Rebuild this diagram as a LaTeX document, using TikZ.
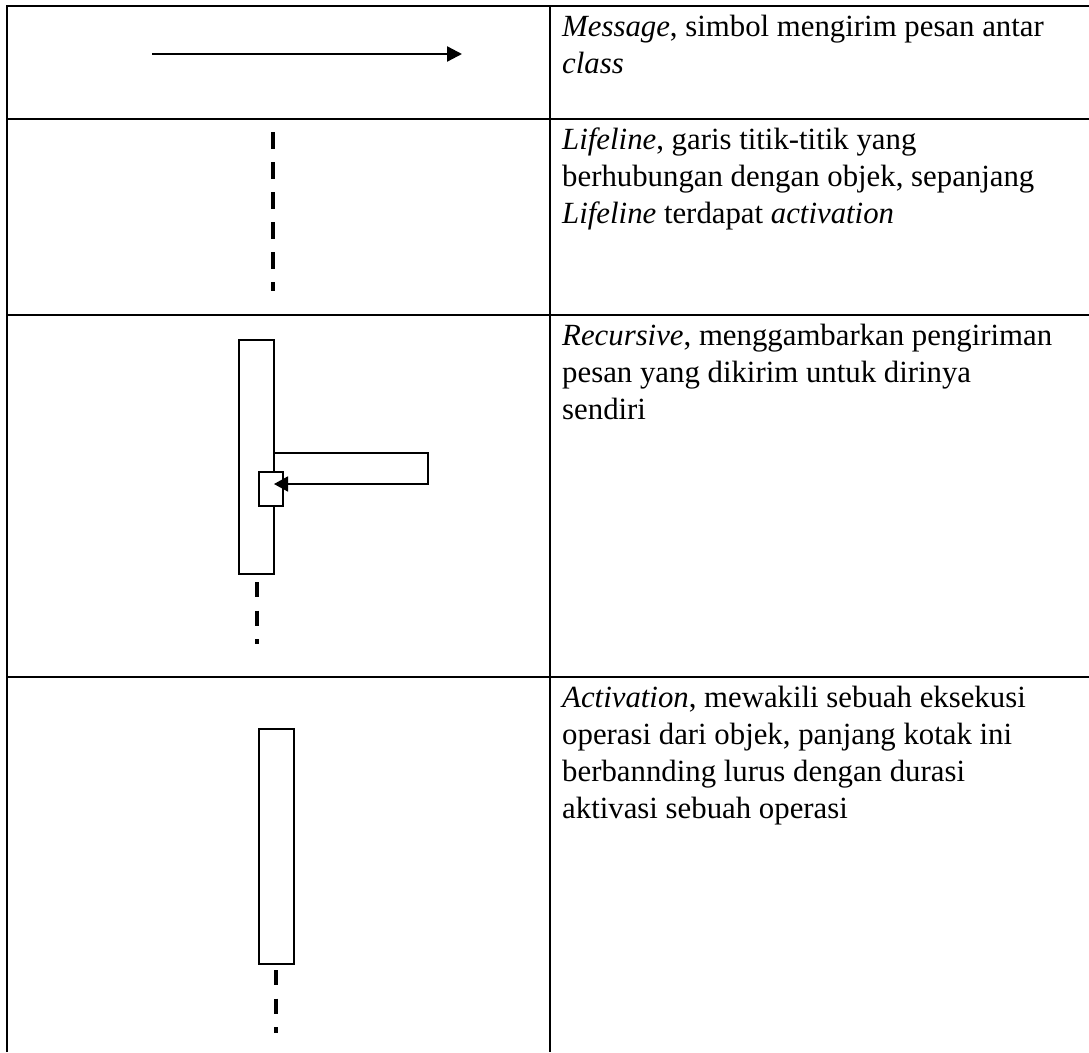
\documentclass[tikz,border=0pt]{standalone}
\usepackage{fontspec}
\setmainfont{Liberation Serif}
\usetikzlibrary{arrows.meta}
\begin{document}
\begin{tikzpicture}[x=1pt,y=-1pt,
  rule/.style={line width=2pt, line join=miter},
  outline/.style={draw, line width=1.8pt, line join=miter},
  box/.style={outline, fill=white, inner sep=0pt, anchor=north west},
  lifeline/.style={line width=3.6pt, dash pattern=on 17pt off 13pt},
  shortlife/.style={line width=3.6pt, dash pattern=on 15pt off 13.5pt},
  msg/.style={line width=2.4pt, -{Triangle[length=15pt,width=15pt]}},
  loopmsg/.style={line width=1.8pt, line join=miter, -{Triangle[length=14pt,width=15pt]}},
  cell/.style={anchor=base west, inner sep=0pt, font=\fontsize{30.8}{36.7}\selectfont}]
\useasboundingbox (0,0) rectangle (1089,1052);

% table grid
\draw[rule] (7,1052) -- (7,6) -- (1089,6);
\draw[rule] (550,6) -- (550,1052);
\draw[rule] (7,119) -- (1089,119);
\draw[rule] (7,315) -- (1089,315);
\draw[rule] (7,677) -- (1089,677);

% row 1: message
\coordinate (msgA) at (152,54);
\coordinate (msgB) at (462,54);
\draw[msg] (msgA) -- (msgB);
\node[cell] (t11) at (562,36) {\textit{Message}, simbol mengirim pesan antar};
\node[cell] (t12) at (562,73) {\textit{class}};

% row 2: lifeline
\coordinate (lifeA) at (273,132);
\coordinate (lifeB) at (273,291);
\draw[lifeline] (lifeA) -- (lifeB);
\node[cell] (t21) at (562,149) {\textit{Lifeline}, garis titik-titik yang};
\node[cell] (t22) at (562,186) {berhubungan dengan objek, sepanjang};
\node[cell] (t23) at (562,223) {\textit{Lifeline} terdapat \textit{activation}};

% row 3: recursive
\node[box, minimum width=35pt, minimum height=234pt] (rbar) at (238,339) {};
\coordinate (loopA) at (273,453);
\coordinate (loopB) at (428,453);
\coordinate (loopC) at (428,484);
\node[box, minimum width=24pt, minimum height=34pt] (rself) at (258,471) {};
\coordinate (loopD) at (274,484);
\draw[loopmsg] (loopA) -- (loopB) -- (loopC) -- (loopD);
\coordinate (rlifeA) at (257,582);
\coordinate (rlifeB) at (257,644);
\draw[shortlife] (rlifeA) -- (rlifeB);
\node[cell] (t31) at (562,345) {\textit{Recursive}, menggambarkan pengiriman};
\node[cell] (t32) at (562,382) {pesan yang dikirim untuk dirinya};
\node[cell] (t33) at (562,419) {sendiri};

% row 4: activation
\node[box, minimum width=35pt, minimum height=235pt] (abar) at (258,728) {};
\coordinate (alifeA) at (276,970);
\coordinate (alifeB) at (276,1033);
\draw[shortlife] (alifeA) -- (alifeB);
\node[cell] (t41) at (562,707) {\textit{Activation}, mewakili sebuah eksekusi};
\node[cell] (t42) at (562,744) {operasi dari objek, panjang kotak ini};
\node[cell] (t43) at (562,781) {berbannding lurus dengan durasi};
\node[cell] (t44) at (562,818) {aktivasi sebuah operasi};
\end{tikzpicture}
\end{document}
